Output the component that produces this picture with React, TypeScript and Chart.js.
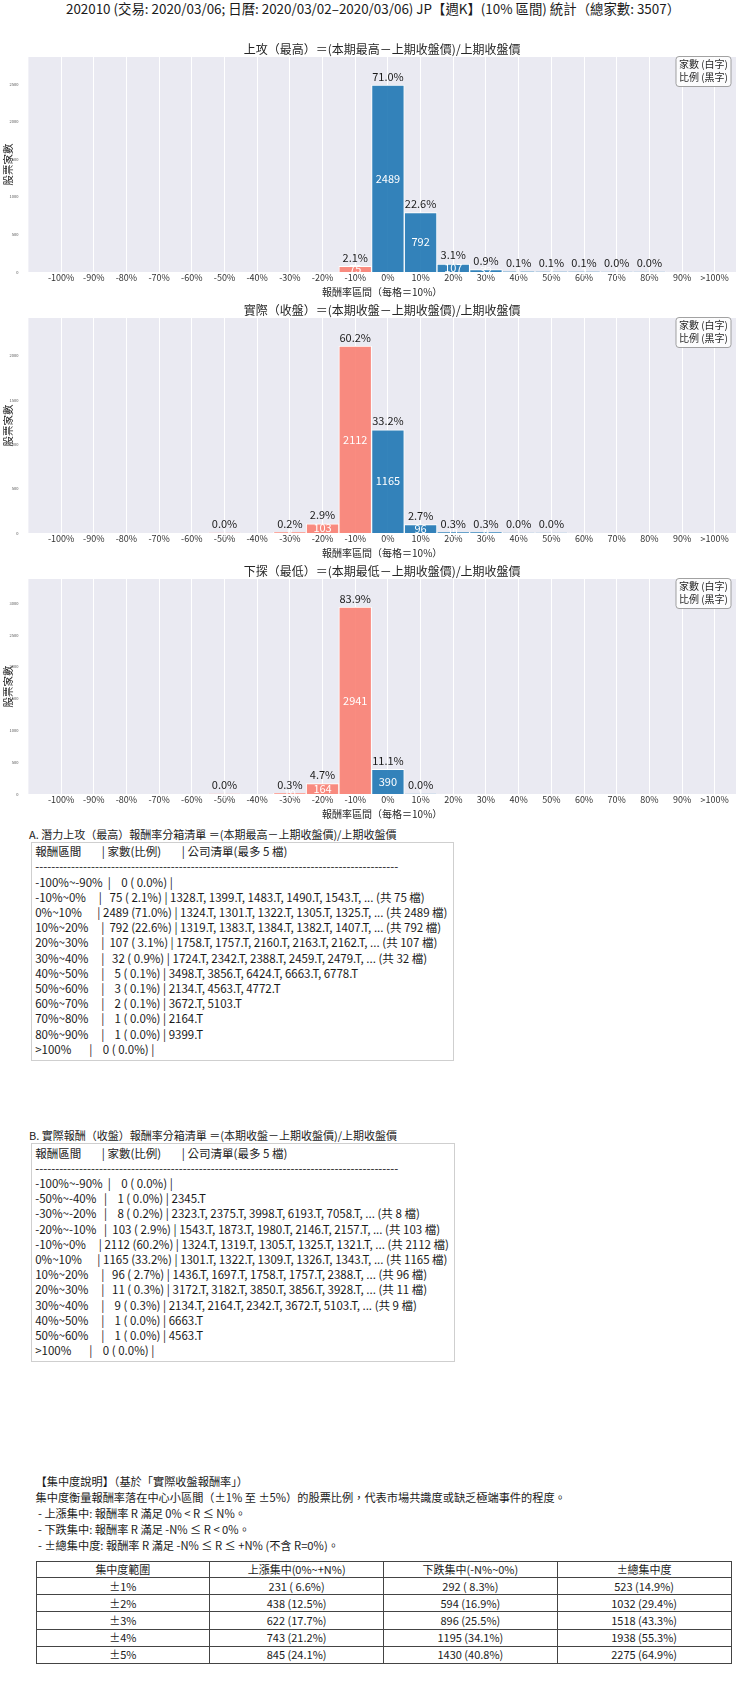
import { useEffect, useRef } from "react";
import { Chart, registerables } from "chart.js";

Chart.register(...registerables);

const FONT = "'Noto Sans CJK TC', 'Noto Sans', sans-serif";
const TOTAL = 3507;
const BLUE = "rgba(31,119,180,0.9)";
const SALMON = "rgba(250,128,114,0.9)";
const TEXT = "#262626";

const binLabels = [
  "-100%", "-90%", "-80%", "-70%", "-60%", "-50%", "-40%", "-30%", "-20%", "-10%",
  "0%", "10%", "20%", "30%", "40%", "50%", "60%", "70%", "80%", "90%", ">100%",
];

const highCounts = [0, 0, 0, 0, 0, 0, 0, 0, 0, 75, 2489, 792, 107, 32, 5, 3, 2, 1, 1, 0, 0];
const closeCounts = [0, 0, 0, 0, 0, 1, 0, 8, 103, 2112, 1165, 96, 11, 9, 1, 1, 0, 0, 0, 0, 0];
const lowCounts = [0, 0, 0, 0, 0, 1, 0, 10, 164, 2941, 390, 1, 0, 0, 0, 0, 0, 0, 0, 0, 0];

const yStep = 500;

// first five tickers per bin (index into binLabels)
const highTickers: Record<number, string[]> = {
  9: ["1328", "1399", "1483", "1490", "1543"],
  10: ["1324", "1301", "1322", "1305", "1325"],
  11: ["1319", "1383", "1384", "1382", "1407"],
  12: ["1758", "1757", "2160", "2163", "2162"],
  13: ["1724", "2342", "2388", "2459", "2479"],
  14: ["3498", "3856", "6424", "6663", "6778"],
  15: ["2134", "4563", "4772"],
  16: ["3672", "5103"],
  17: ["2164"],
  18: ["9399"],
};
const closeTickers: Record<number, string[]> = {
  5: ["2345"],
  7: ["2323", "2375", "3998", "6193", "7058"],
  8: ["1543", "1873", "1980", "2146", "2157"],
  9: ["1324", "1319", "1305", "1325", "1321"],
  10: ["1301", "1322", "1309", "1326", "1343"],
  11: ["1436", "1697", "1758", "1757", "2388"],
  12: ["3172", "3182", "3850", "3856", "3928"],
  13: ["2134", "2164", "2342", "3672", "5103"],
  14: ["6663"],
  15: ["4563"],
};

const concRanges = ["±1%", "±2%", "±3%", "±4%", "±5%"];
const concUp = [231, 438, 622, 743, 845];
const concDown = [292, 594, 896, 1195, 1430];
const concTotal = [523, 1032, 1518, 1938, 2275];

const pad = (s: string, n: number) => s + " ".repeat(Math.max(0, n - s.length));
const lpad = (s: string, n: number) => " ".repeat(Math.max(0, n - s.length)) + s;
const pct = (c: number) => ((c / TOTAL) * 100).toFixed(1);

function rangeLabel(i: number) {
  if (i === binLabels.length - 1) return ">100%";
  const lo = -100 + i * 10;
  return `${lo}%~${lo + 10}%`;
}

function listLines(counts: number[], tickers: Record<number, string[]>) {
  const lines = [
    `${pad("報酬區間", 12)}| ${pad("家數(比例)", 14)}| 公司清單(最多 5 檔)`,
    "-".repeat(91),
  ];
  counts.forEach((c, i) => {
    if (!(i === 0 || i === counts.length - 1 || c > 0)) return;
    const list = tickers[i] ?? [];
    let tail = list.map((t) => t + ".T").join(", ");
    if (c > list.length) tail += `, ... (共 ${c} 檔)`;
    lines.push(`${pad(rangeLabel(i), 12)}| ${lpad(String(c), 4)} (${lpad(pct(c), 4)}%) | ${tail}`);
  });
  return lines;
}

function HistChart({ title, counts, top }: { title: string; counts: number[]; top: number }) {
  const canvasRef = useRef<HTMLCanvasElement>(null);

  useEffect(() => {
    const canvas = canvasRef.current;
    if (!canvas) return;
    const ymax = Math.max(...counts) * 1.15;

    const chart = new Chart(canvas, {
      type: "bar",
      data: {
        datasets: [
          {
            data: counts.map((c, i) => ({ x: i, y: c })),
            backgroundColor: counts.map((_, i) => (i < 10 ? SALMON : BLUE)),
            borderColor: "#ffffff",
            borderWidth: 1,
            barPercentage: 1,
            categoryPercentage: 1,
          },
        ],
      },
      options: {
        animation: false,
        responsive: true,
        maintainAspectRatio: false,
        layout: { padding: { top: 0, right: 4, bottom: 0, left: 0 } },
        plugins: {
          legend: { display: false },
          tooltip: { enabled: false },
          title: {
            display: true,
            text: title,
            fullSize: false,
            color: TEXT,
            font: { family: FONT, size: 12, weight: "normal" },
            padding: { top: 2.6, bottom: 0 },
          },
        },
        scales: {
          x: {
            type: "linear",
            min: -1,
            max: 20.65,
            offset: false,
            afterBuildTicks: (axis: any) => {
              axis.ticks = binLabels.map((_, i) => ({ value: i }));
            },
            afterFit: (s: any) => {
              s.height = 29;
            },
            ticks: {
              autoSkip: false,
              maxRotation: 0,
              padding: 0,
              color: "#333",
              font: { family: FONT, size: 9 },
              callback: (v: any) => binLabels[Number(v)] ?? "",
            },
            grid: { color: "#ffffff", lineWidth: 1, drawTicks: false, offset: false },
            border: { display: false },
            title: {
              display: true,
              text: "報酬率區間（每格＝10%）",
              color: TEXT,
              font: { family: FONT, size: 10 },
              padding: { top: 0, bottom: 3 },
            },
          },
          y: {
            min: 0,
            max: ymax,
            afterBuildTicks: (axis: any) => {
              const t = [];
              for (let v = 0; v <= ymax; v += yStep) t.push({ value: v });
              axis.ticks = t;
            },
            afterFit: (s: any) => {
              s.width = 28.4;
            },
            ticks: {
              autoSkip: false,
              padding: 2,
              color: "#555",
              font: { family: FONT, size: 4 },
              callback: (v: any) => String(v),
            },
            grid: { display: false },
            border: { display: false },
            title: {
              display: true,
              text: "股票家數",
              color: TEXT,
              font: { family: FONT, size: 10.5 },
              padding: { top: 2.2, bottom: 0 },
            },
          },
        },
      },
      plugins: [
        {
          id: "plotBg",
          beforeDraw(c: any) {
            const { ctx, chartArea: a } = c;
            ctx.save();
            ctx.fillStyle = "#eaeaf2";
            ctx.fillRect(a.left, a.top, a.right - a.left, a.bottom - a.top);
            ctx.restore();
          },
        },
        {
          id: "barText",
          afterDatasetsDraw(c: any) {
            const { ctx } = c;
            const bars = c.getDatasetMeta(0).data;
            ctx.save();
            ctx.font = `11px ${FONT}`;
            ctx.textAlign = "center";
            ctx.textBaseline = "alphabetic";
            counts.forEach((v, i) => {
              if (v <= 0) return;
              const b = bars[i];
              ctx.fillStyle = "#1a1a1a";
              ctx.fillText(`${pct(v)}%`, b.x, b.y - 4.5);
              ctx.fillStyle = "#ffffff";
              ctx.fillText(String(v), b.x, (b.y + b.base) / 2 + 4);
            });
            ctx.restore();
          },
        },
        {
          id: "cornerNote",
          afterDraw(c: any) {
            const { ctx, chartArea: a } = c;
            const w = 55;
            const h = 30;
            const x = a.right - 5 - w;
            const y = a.top - 0.5;
            ctx.save();
            ctx.beginPath();
            ctx.roundRect(x, y, w, h, 3);
            ctx.fillStyle = "rgba(255,255,255,0.85)";
            ctx.fill();
            ctx.strokeStyle = "#8a8a8a";
            ctx.lineWidth = 0.8;
            ctx.stroke();
            ctx.font = `10px ${FONT}`;
            ctx.fillStyle = TEXT;
            ctx.textAlign = "center";
            ctx.textBaseline = "middle";
            ctx.fillText("家數 (白字)", x + w / 2, y + 7.5);
            ctx.fillText("比例 (黑字)", x + w / 2, y + 20.5);
            ctx.restore();
          },
        },
      ],
    });

    return () => chart.destroy();
  }, [title, counts]);

  return (
    <div style={{ position: "absolute", left: 0, top, width: 740, height: 261 }}>
      <canvas ref={canvasRef} />
    </div>
  );
}

const base: React.CSSProperties = {
  position: "absolute",
  fontFamily: FONT,
  fontSize: 11,
  color: "#1a1a1a",
  whiteSpace: "pre",
};

function ListBox({ heading, lines, top }: { heading: string; lines: string[]; top: number }) {
  return (
    <>
      <div style={{ ...base, left: 29, top: top - 14.6, lineHeight: "15.2px" }}>{heading}</div>
      <div
        style={{
          ...base,
          left: 30.7,
          top,
          fontSize: 11.5,
          lineHeight: "15.2px",
          border: "1px solid #cfcfcf",
          padding: "1.5px 5px 2.5px 3.5px",
          background: "#fff",
        }}
      >
        {lines.map((l, i) => (
          <div key={i}>{l}</div>
        ))}
      </div>
    </>
  );
}

const cell: React.CSSProperties = {
  border: "1px solid #444",
  textAlign: "center",
  padding: 0,
  fontSize: 11,
  lineHeight: "15px",
};

export default function App() {
  const noteLines = [
    "【集中度說明】（基於「實際收盤報酬率」）",
    "集中度衡量報酬率落在中心小區間（±1% 至 ±5%）的股票比例，代表市場共識度或缺乏極端事件的程度。",
    " - 上漲集中: 報酬率 R 滿足 0% < R ≤ N%。",
    " - 下跌集中: 報酬率 R 滿足 -N% ≤ R < 0%。",
    " - ±總集中度: 報酬率 R 滿足 -N% ≤ R ≤ +N% (不含 R=0%)。",
  ];
  const fmt = (c: number) => `${c} (${lpad(pct(c), 4)}%)`;

  return (
    <div style={{ position: "absolute", left: 0, top: 0, width: 740, height: 1690, background: "#fff" }}>
      <div
        style={{
          ...base,
          left: 0,
          width: 746,
          top: 0,
          textAlign: "center",
          fontSize: 13.4,
          lineHeight: "16px",
        }}
      >
        202010 (交易: 2020/03/06; 日曆: 2020/03/02–2020/03/06) JP【週K】(10% 區間) 統計（總家數: 3507）
      </div>

      <HistChart title="上攻（最高）＝(本期最高－上期收盤價)/上期收盤價" counts={highCounts} top={40} />
      <HistChart title="實際（收盤）＝(本期收盤－上期收盤價)/上期收盤價" counts={closeCounts} top={301} />
      <HistChart title="下探（最低）＝(本期最低－上期收盤價)/上期收盤價" counts={lowCounts} top={562} />

      <ListBox
        heading="A. 潛力上攻（最高）報酬率分箱清單 ＝(本期最高－上期收盤價)/上期收盤價"
        lines={listLines(highCounts, highTickers)}
        top={841.7}
      />
      <ListBox
        heading="B. 實際報酬（收盤）報酬率分箱清單 ＝(本期收盤－上期收盤價)/上期收盤價"
        lines={listLines(closeCounts, closeTickers)}
        top={1143}
      />

      <div style={{ ...base, left: 35.5, top: 1473, fontSize: 11.2, lineHeight: "16px" }}>
        {noteLines.map((l, i) => (
          <div key={i}>{l}</div>
        ))}
      </div>

      <table
        style={{
          position: "absolute",
          left: 35.5,
          top: 1560.7,
          width: 696,
          borderCollapse: "collapse",
          fontFamily: FONT,
          color: "#1a1a1a",
          tableLayout: "fixed",
        }}
      >
        <tbody>
          <tr style={{ height: 16.6 }}>
            <td style={cell}>集中度範圍</td>
            <td style={cell}>上漲集中(0%~+N%)</td>
            <td style={cell}>下跌集中(-N%~0%)</td>
            <td style={cell}>±總集中度</td>
          </tr>
          {concRanges.map((r, i) => (
            <tr key={r} style={{ height: 17.1 }}>
              <td style={cell}>{r}</td>
              <td style={{ ...cell, whiteSpace: "pre" }}>{fmt(concUp[i])}</td>
              <td style={{ ...cell, whiteSpace: "pre" }}>{fmt(concDown[i])}</td>
              <td style={{ ...cell, whiteSpace: "pre" }}>{fmt(concTotal[i])}</td>
            </tr>
          ))}
        </tbody>
      </table>
    </div>
  );
}
